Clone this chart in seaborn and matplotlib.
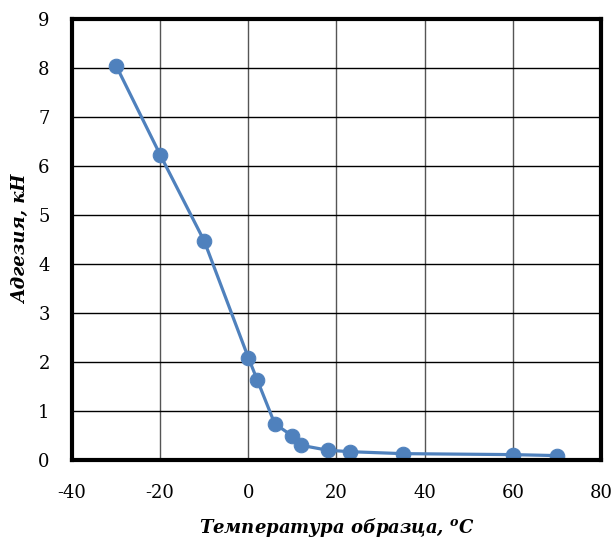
import numpy as np
import pandas as pd
import matplotlib
matplotlib.use("Agg")
import matplotlib.pyplot as plt
import seaborn as sns

# data
temperature = [-30, -20, -10, 0, 2, 6, 10, 12, 18, 23, 35, 60, 70]
adhesion = [8.05, 6.23, 4.47, 2.09, 1.64, 0.74, 0.49, 0.30, 0.20, 0.17, 0.13, 0.11, 0.09]
x_ticks = [-40, -20, 0, 20, 40, 60, 80]
y_ticks = [0, 1, 2, 3, 4, 5, 6, 7, 8, 9]

df = pd.DataFrame({"t": temperature, "a": adhesion})

sns.set_theme(style="white")
plt.rcParams["font.family"] = ["DejaVu Serif"]
plt.rcParams["axes.unicode_minus"] = False
plt.rcParams["mathtext.fontset"] = "custom"
plt.rcParams["mathtext.rm"] = "DejaVu Serif:bold:italic"
plt.rcParams["mathtext.it"] = "DejaVu Serif:bold:italic"

fig = plt.figure(figsize=(6.12, 5.41), dpi=100)
ax = fig.add_axes([0.1176, 0.1497, 0.8644, 0.8152])

blue = "#4F81BD"
sns.lineplot(data=df, x="t", y="a", ax=ax, color=blue, linewidth=2.3,
             marker="o", markersize=10.5, markeredgecolor=blue, sort=False)

ax.set_xlim(-40, 80)
ax.set_ylim(0, 9)
ax.set_xticks(x_ticks)
ax.set_yticks(y_ticks)
ax.grid(True, axis="y", color="black", linewidth=1.0)
ax.grid(True, axis="x", color="#555555", linewidth=1.0)
ax.set_axisbelow(True)
for s in ax.spines.values():
    s.set_color("black")
    s.set_linewidth(3)
ax.tick_params(axis="x", labelsize=13, colors="black", length=0, pad=17)
ax.tick_params(axis="y", labelsize=13, colors="black", length=0, pad=16)

ax.set_xlabel(r"Температура образца, $^{o}$C", fontsize=13,
              fontweight="bold", fontstyle="italic", color="black", labelpad=10)
ax.set_ylabel("Адгезия, кН", fontsize=13, fontweight="bold",
              fontstyle="italic", color="black", labelpad=6)

fig.savefig("out.png", dpi=100)
